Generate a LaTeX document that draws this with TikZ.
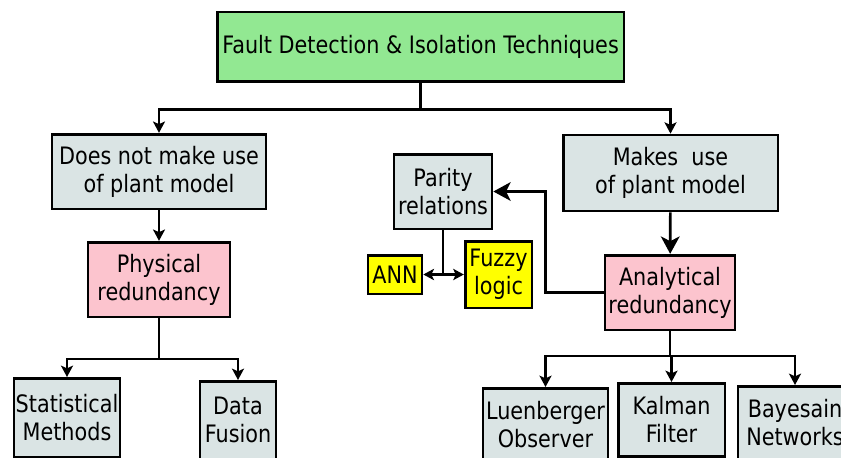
\documentclass[tikz,border=0pt]{standalone}
\usepackage{fontspec}
\setmainfont{DejaVu Sans}[FakeStretch=0.865]
\usetikzlibrary{arrows.meta}
\definecolor{boxgreen}{RGB}{146,232,146}
\definecolor{boxgray}{RGB}{218,228,228}
\definecolor{boxpink}{RGB}{252,196,206}
\definecolor{boxyellow}{RGB}{255,255,0}
\tikzstyle{block} = [draw=black, line width=2pt, align=center, inner sep=0pt, font=\fontsize{18}{21}\selectfont]
\tikzstyle{greybox} = [block, fill=boxgray]
\tikzstyle{pinkbox} = [block, fill=boxpink]
\tikzstyle{yellowbox} = [block, fill=boxyellow]
\tikzstyle{leaf} = [greybox, anchor=north, inner ysep=10pt]
\tikzstyle{arrow} = [line width=1.9pt, -{Stealth[length=8.5pt,width=9pt,inset=2pt]}]
\tikzstyle{bigarrow} = [line width=2pt, -{Stealth[length=13pt,width=14pt,inset=3.5pt]}]
\tikzstyle{twoway} = [line width=1.9pt, {Stealth[length=8pt,width=8.5pt,inset=2pt]}-{Stealth[length=8pt,width=8.5pt,inset=2pt]}]

\begin{document}
\begin{tikzpicture}[x=0.75pt, y=-0.75pt]%
	\useasboundingbox (0,0) rectangle (841,457);%
	\clip (0,0) rectangle (841,457);%
	% top
	\node [block, fill=boxgreen, minimum width=305pt, minimum height=52pt] (fdi) at (420.5,46.5) {Fault Detection \& Isolation Techniques};%
	% left branch
	\node [greybox, minimum width=160.5pt, minimum height=56pt] (nouse) at (159,171.5) {Does not make use\\of plant model};%
	\node [pinkbox, minimum width=106.5pt, minimum height=56pt] (phys) at (159,279.5) {Physical\\redundancy};%
	\node [leaf, inner ysep=12pt, minimum width=79.5pt] (stat) at (67,377) {Statistical\\Methods};%
	\node [leaf, inner ysep=12pt, minimum width=57pt] (fusion) at (238,380) {Data\\Fusion};%
	% right branch
	\node [greybox, minimum width=161pt, minimum height=57pt] (use) at (670.5,173) {Makes~ use\\of plant model};%
	\node [pinkbox, minimum width=97.5pt, minimum height=56pt] (anal) at (670,292.5) {Analytical\\redundancy};%
	\node [greybox, minimum width=73.5pt, minimum height=56pt] (parity) at (443,191.5) {Parity\\relations};%
	\node [yellowbox, minimum width=40.5pt, minimum height=29pt] (ann) at (395,274.5) {ANN};%
	\node [yellowbox, minimum width=50pt, minimum height=50pt] (fuzzy) at (498.5,274.5) {Fuzzy\\logic};%
	\node [leaf, minimum width=93.75pt] (luen) at (545.5,387) {Luenberger\\Observer};%
	\node [leaf, minimum width=80pt] (kalman) at (671.5,382) {Kalman\\Filter};%
	\node [leaf, minimum width=85.5pt] (bayes) at (795,385) {Bayesain\\Networks};%
	% connectors
	\draw [arrow] (fdi.south) -- ++(0,27) coordinate (branch) -| (nouse.north);%
	\draw [arrow] (branch) -| (use.north);%
	\draw [arrow] (nouse) -- (phys);%
	\draw [arrow] (phys.south) -- ++(0,41) coordinate (pbranch) -| (stat.north);%
	\draw [arrow] (pbranch) -| (fusion.north);%
	\draw [bigarrow] (use) -- (anal);%
	\draw [bigarrow] (anal.west) -- ++(-58,0) |- (parity.east);%
	\draw [line width=1.9pt] (parity.south) -- (parity.south |- ann.east);%
	\draw [twoway] (ann.east) -- (fuzzy.west);%
	\draw [arrow] (anal.south) -- ++(0,25) coordinate (abranch) -| (luen.north);%
	\draw [arrow] (abranch) -| (kalman.north);%
	\draw [arrow] (abranch) -| (bayes.north);%
\end{tikzpicture}
\end{document}
